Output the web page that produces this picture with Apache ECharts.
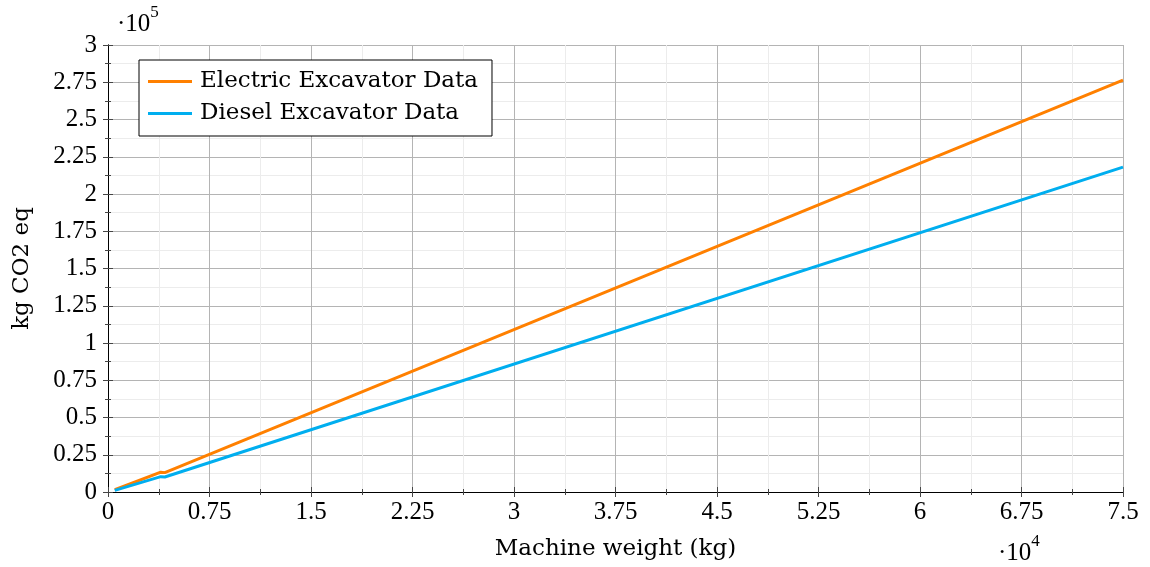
<!DOCTYPE html>
<html>
<head>
<meta charset="utf-8">
<script src="https://cdn.jsdelivr.net/npm/echarts@6/dist/echarts.min.js"></script>
<style>
html,body{margin:0;padding:0;background:#fff;}
#chart{width:1150px;height:567px;}
</style>
</head>
<body>
<div id="chart"></div>
<script>
// machine weight (kg)
const weights=[500,3900,4200,75000];
// kg CO2 eq
const electric=[1500,13300,13000,276500];
const diesel=[1100,10300,10100,218000];
const seriesNames=["Electric Excavator Data","Diesel Excavator Data"];

const FONT="Liberation Serif";
const WIDE="DejaVu Serif";

const chart=echarts.init(document.getElementById("chart"));

const majorLine={show:true,lineStyle:{color:"#b4b4b4",width:1}};
const minorLine={show:true,lineStyle:{color:"#ececec",width:1}};

chart.setOption({
    animation:false,
    textStyle:{fontFamily:FONT,color:"#000"},
    grid:{left:108,right:27,top:45,bottom:75},
    legend:{
        left:139,
        top:60,
        orient:"vertical",
        backgroundColor:"#fff",
        borderColor:"#000",
        borderWidth:1,
        borderRadius:0,
        padding:[10,14,11,9],
        itemGap:9,
        icon:"rect",
        itemWidth:44,
        itemHeight:3,
        textStyle:{fontFamily:WIDE,fontSize:23,color:"#000",padding:[0,0,0,3]},
        data:seriesNames
    },
    xAxis:[
        {
            type:"value",
            min:0,
            max:75000,
            interval:7500,
            name:"Machine weight (kg)",
            nameLocation:"middle",
            nameGap:46,
            nameTextStyle:{fontFamily:WIDE,fontSize:23,color:"#000"},
            axisLine:{show:true,lineStyle:{color:"#000",width:1}},
            axisTick:{show:true,inside:true,length:5,lineStyle:{color:"#444"}},
            minorTick:{show:true,splitNumber:2,length:3,lineStyle:{color:"#444"}},
            axisLabel:{
                fontFamily:FONT,fontSize:25,color:"#000",margin:8,
                formatter:v=>String(+(v/10000).toFixed(2))
            },
            splitLine:majorLine,
            minorSplitLine:minorLine
        },
        {
            type:"value",
            position:"top",
            min:0,
            max:75000,
            interval:7500,
            axisLine:{show:true,lineStyle:{color:"#000",width:1}},
            axisTick:{show:true,inside:true,length:5,lineStyle:{color:"#444"}},
            minorTick:{show:true,splitNumber:2,length:3,lineStyle:{color:"#444"}},
            axisLabel:{show:false},
            splitLine:{show:false}
        }
    ],
    yAxis:[
        {
            type:"value",
            min:0,
            max:300000,
            interval:25000,
            name:"kg CO2 eq",
            nameLocation:"middle",
            nameGap:74,
            nameRotate:90,
            nameTextStyle:{fontFamily:WIDE,fontSize:23,color:"#000"},
            axisLine:{show:true,lineStyle:{color:"#000",width:1}},
            axisTick:{show:true,inside:true,length:5,lineStyle:{color:"#444"}},
            minorTick:{show:true,splitNumber:2,length:3,lineStyle:{color:"#444"}},
            axisLabel:{
                fontFamily:FONT,fontSize:25,color:"#000",margin:11,
                formatter:v=>String(+(v/100000).toFixed(2))
            },
            splitLine:majorLine,
            minorSplitLine:minorLine
        },
        {
            type:"value",
            position:"right",
            min:0,
            max:300000,
            interval:25000,
            axisLine:{show:true,lineStyle:{color:"#000",width:1}},
            axisTick:{show:true,inside:true,length:5,lineStyle:{color:"#444"}},
            minorTick:{show:true,splitNumber:2,length:3,lineStyle:{color:"#444"}},
            axisLabel:{show:false},
            splitLine:{show:false}
        }
    ],
    graphic:[
        {
            type:"text",
            left:117,
            top:4,
            style:{
                text:"{a|·10}{s|5}",
                rich:{
                    a:{fontFamily:FONT,fontSize:25,fill:"#000",padding:[8,0,0,0]},
                    s:{fontFamily:FONT,fontSize:17,fill:"#000",verticalAlign:"top"}
                }
            }
        },
        {
            type:"text",
            left:998,
            top:533,
            style:{
                text:"{a|·10}{s|4}",
                rich:{
                    a:{fontFamily:FONT,fontSize:25,fill:"#000",padding:[8,0,0,0]},
                    s:{fontFamily:FONT,fontSize:17,fill:"#000",verticalAlign:"top"}
                }
            }
        }
    ],
    series:[
        {
            name:seriesNames[0],
            type:"line",
            showSymbol:false,
            color:"#ff8000",
            lineStyle:{width:3,color:"#ff8000"},
            data:weights.map((w,i)=>[w,electric[i]])
        },
        {
            name:seriesNames[1],
            type:"line",
            showSymbol:false,
            color:"#00aeef",
            lineStyle:{width:3,color:"#00aeef"},
            data:weights.map((w,i)=>[w,diesel[i]])
        }
    ]
});
</script>
</body>
</html>
